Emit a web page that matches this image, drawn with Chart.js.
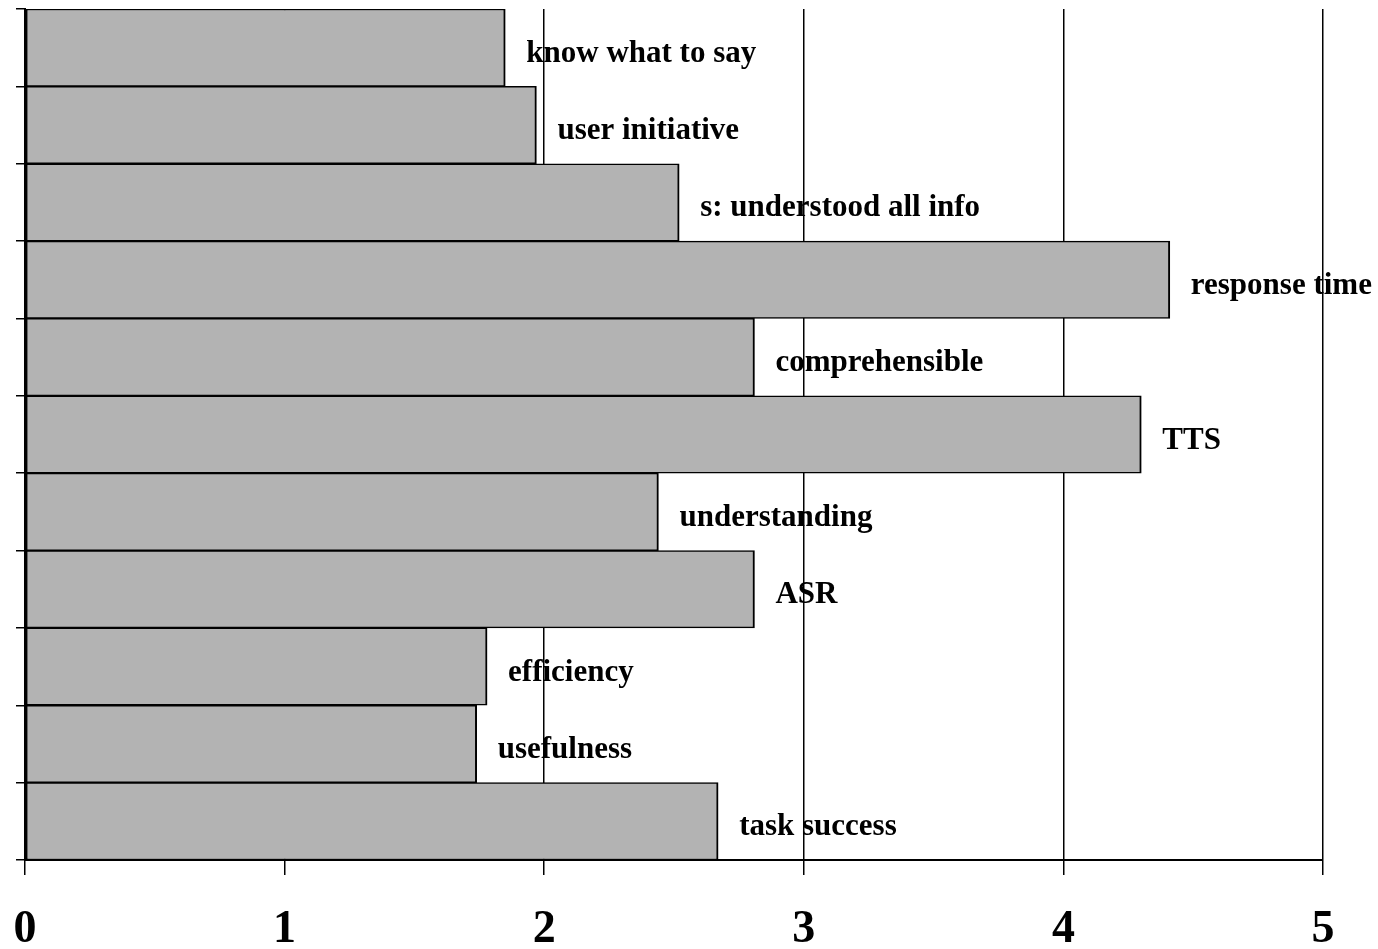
<!DOCTYPE html>
<html>
<head>
<meta charset="utf-8">
<script src="https://cdn.jsdelivr.net/npm/chart.js@4"></script>
<style>
html,body{margin:0;padding:0;background:#fff;}
#wrap{width:1378px;height:949px;position:relative;}
</style>
</head>
<body>
<div id="wrap"><canvas id="c" width="1378" height="949"></canvas></div>
<script>
const categories = ["know what to say","user initiative","s: understood all info","response time","comprehensible","TTS","understanding","ASR","efficiency","usefulness","task success"];
const values = [1.85,1.97,2.52,4.41,2.81,4.30,2.44,2.81,1.78,1.74,2.67];
const xTicks = [0,1,2,3,4,5];

const labelPlugin = {
  id: 'barLabels',
  beforeDraw(chart) {
    const meta = chart.getDatasetMeta(0);
    const ctx = chart.ctx;
    ctx.save();
    ctx.font = 'bold 31px "Liberation Serif", "Times New Roman", serif';
    ctx.fillStyle = '#000';
    ctx.textAlign = 'left';
    ctx.textBaseline = 'alphabetic';
    meta.data.forEach((bar, i) => {
      ctx.fillText(categories[i], bar.x + 21, bar.y + 14);
    });
    ctx.restore();
  }
};

new Chart(document.getElementById('c'), {
  type: 'bar',
  data: {
    labels: categories,
    datasets: [{
      data: values,
      backgroundColor: '#b3b3b3',
      borderColor: '#000',
      borderWidth: {top:1.5, bottom:1.5, left:2, right:2},
      borderSkipped: false,
      barPercentage: 1,
      categoryPercentage: 1
    }]
  },
  options: {
    indexAxis: 'y',
    responsive: false,
    animation: false,
    layout: {padding: {top: 9, right: 55, bottom: 0, left: 0}},
    plugins: {legend: {display: false}, tooltip: {enabled: false}},
    scales: {
      x: {
        min: 0, max: 5,
        afterBuildTicks(axis) { axis.ticks = xTicks.map(v => ({value: v})); },
        afterFit(axis) { axis.height = 89; axis.paddingLeft = 0; axis.paddingRight = 0; },
        grid: {color: '#000', lineWidth: 1.5, tickLength: 15, drawOnChartArea: true},
        border: {display: true, color: '#000', width: 2},
        ticks: {
          color: '#000',
          padding: 28,
          maxRotation: 0,
          font: {family: '"Liberation Serif", "Times New Roman", serif', size: 46, weight: 'bold'}
        }
      },
      y: {
        afterFit(axis) { axis.width = 25; axis.paddingTop = 0; axis.paddingBottom = 0; },
        grid: {color: '#000', lineWidth: 1.5, tickLength: 9, drawOnChartArea: false, offset: true},
        border: {display: true, color: '#000', width: 2},
        ticks: {display: false}
      }
    }
  },
  plugins: [labelPlugin]
});
</script>
</body>
</html>
